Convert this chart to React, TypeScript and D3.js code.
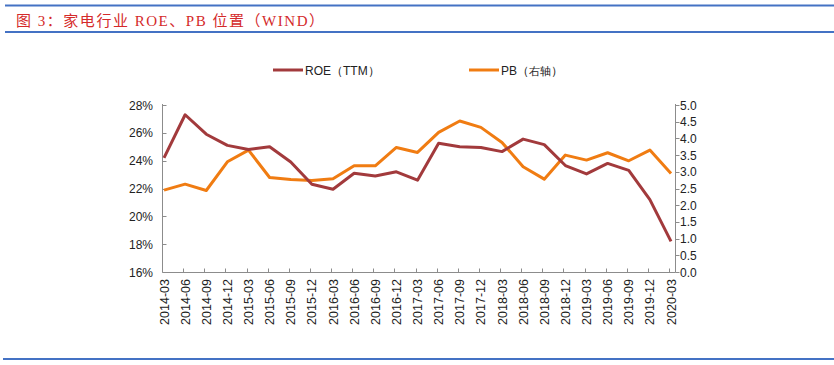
import * as d3 from "d3";

const quarters = [
  "2014-03", "2014-06", "2014-09", "2014-12",
  "2015-03", "2015-06", "2015-09", "2015-12",
  "2016-03", "2016-06", "2016-09", "2016-12",
  "2017-03", "2017-06", "2017-09", "2017-12",
  "2018-03", "2018-06", "2018-09", "2018-12",
  "2019-03", "2019-06", "2019-09", "2019-12",
  "2020-03",
];

// ROE (TTM), %
const roe = [
  24.2, 27.3, 25.9, 25.1, 24.8, 25.0, 23.9, 22.3, 21.95, 23.1, 22.9, 23.2,
  22.6, 25.25, 25.0, 24.95, 24.65, 25.55, 25.15, 23.65, 23.05, 23.8, 23.3,
  21.2, 18.2,
];

// PB, right axis
const pb = [
  2.45, 2.63, 2.44, 3.3, 3.65, 2.83, 2.77, 2.74, 2.79, 3.18, 3.18, 3.73, 3.58,
  4.18, 4.52, 4.33, 3.88, 3.15, 2.78, 3.5, 3.35, 3.57, 3.33, 3.65, 2.95,
];

const leftTicks = [16, 18, 20, 22, 24, 26, 28];
const rightTicks = [0, 0.5, 1, 1.5, 2, 2.5, 3, 3.5, 4, 4.5, 5];

const W = 834;
const H = 365;
const ROE_COLOR = "#A23A3C";
const PB_COLOR = "#F07C12";
const AXIS_COLOR = "#8C8C8C";
const FONT = "'Liberation Sans', Arial, sans-serif";

export default function App() {
  const x = d3.scalePoint<string>().domain(quarters).range([164, 671]);
  const yL = d3.scaleLinear().domain([16, 28]).range([272, 105]);
  const yR = d3.scaleLinear().domain([0, 5]).range([272, 105]);

  const roeLine = d3
    .line<number>()
    .x((_, i) => x(quarters[i]) as number)
    .y((d) => yL(d));
  const pbLine = d3
    .line<number>()
    .x((_, i) => x(quarters[i]) as number)
    .y((d) => yR(d));

  const axisLeft = 162.5;
  const axisRight = 675.5;
  const axisBottom = 272.5;

  return (
    <svg
      width={W}
      height={H}
      style={{ position: "absolute", left: 0, top: 0, display: "block" }}
    >
      <rect width={W} height={H} fill="#fff" />

      {/* header */}
      <line x1={5} x2={834} y1={5.5} y2={5.5} stroke="#4472C4" strokeWidth={2} />
      <text
        x={16}
        y={26}
        fontSize={15}
        fill="#D42A2A"
        textLength={308}
        lengthAdjust="spacing"
        fontFamily="'Liberation Serif', 'Noto Sans CJK SC', serif"
      >
        图 3：家电行业 ROE、PB 位置（WIND）
      </text>
      <line x1={5} x2={834} y1={32} y2={32} stroke="#4472C4" strokeWidth={2} />
      <line x1={3} x2={834} y1={359} y2={359} stroke="#4472C4" strokeWidth={2} />

      {/* legend */}
      <g fontFamily={FONT} fontSize={12} fill="#222">
        <line x1={273} x2={303} y1={70} y2={70} stroke={ROE_COLOR} strokeWidth={3} />
        <text x={305} y={74.5}>ROE（TTM）</text>
        <line x1={469} x2={499} y1={70} y2={70} stroke={PB_COLOR} strokeWidth={3} />
        <text x={501} y={74.5}>
          PB（<tspan fontSize={11}>右轴</tspan>）
        </text>
      </g>

      {/* axes */}
      <g stroke={AXIS_COLOR} strokeWidth={1} fill="none">
        <line x1={axisLeft} x2={axisLeft} y1={104} y2={axisBottom} />
        <line x1={axisRight} x2={axisRight} y1={104} y2={axisBottom} />
        <line x1={axisLeft} x2={axisRight} y1={axisBottom} y2={axisBottom} />
        {leftTicks.map((t) => (
          <line
            key={"lt" + t}
            x1={axisLeft}
            x2={axisLeft + 4}
            y1={Math.round(yL(t)) + 0.5}
            y2={Math.round(yL(t)) + 0.5}
          />
        ))}
        {rightTicks.map((t) => (
          <line
            key={"rt" + t}
            x1={axisRight}
            x2={axisRight + 4}
            y1={Math.round(yR(t)) + 0.5}
            y2={Math.round(yR(t)) + 0.5}
          />
        ))}
        {quarters.slice(1).map((q) => (
          <line
            key={"xt" + q}
            x1={Math.round(x(q) as number) - 1.5}
            x2={Math.round(x(q) as number) - 1.5}
            y1={axisBottom - 4}
            y2={axisBottom}
          />
        ))}
      </g>

      <g fontFamily={FONT} fontSize={12} fill="#222">
        {leftTicks.map((t) => (
          <text key={"ll" + t} x={153} y={yL(t) + 4.5} textAnchor="end">
            {t}%
          </text>
        ))}
        {rightTicks.map((t) => (
          <text key={"rl" + t} x={680} y={yR(t) + 4.5}>
            {t.toFixed(1)}
          </text>
        ))}
        {quarters.map((q) => (
          <text
            key={"xl" + q}
            transform={`translate(${(x(q) as number) + 4.5},279) rotate(-90)`}
            textAnchor="end"
            fontSize={12.5}
          >
            {q}
          </text>
        ))}
      </g>

      {/* series */}
      <path
        d={pbLine(pb) ?? ""}
        fill="none"
        stroke={PB_COLOR}
        strokeWidth={3}
        strokeLinejoin="round"
      />
      <path
        d={roeLine(roe) ?? ""}
        fill="none"
        stroke={ROE_COLOR}
        strokeWidth={3}
        strokeLinejoin="round"
      />
    </svg>
  );
}
